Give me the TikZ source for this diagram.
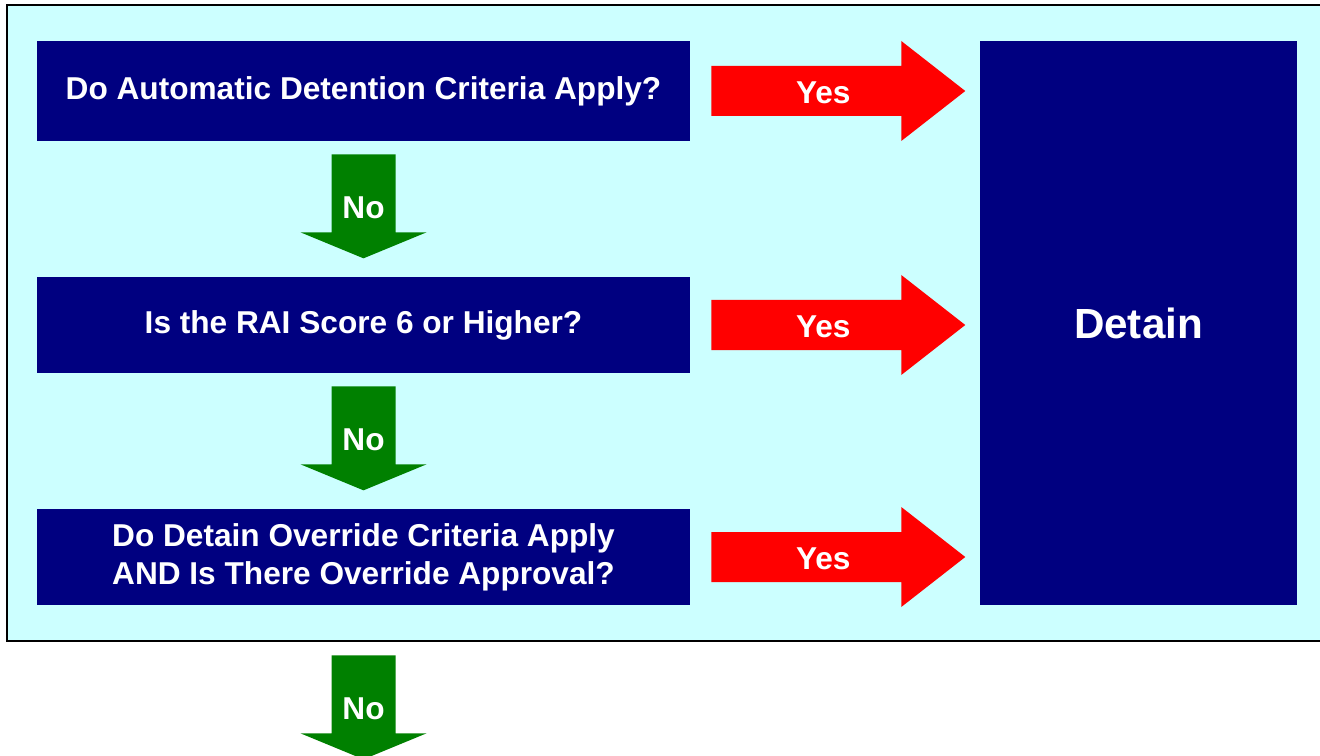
\documentclass[tikz,border=0pt]{standalone}
\usepackage{fontspec}
\setmainfont{Liberation Sans}
\usetikzlibrary{positioning}
\definecolor{panel}{HTML}{CCFFFF}
\definecolor{navy}{HTML}{000080}
\definecolor{nogreen}{HTML}{008000}

\begin{document}
\begin{tikzpicture}[x=0.02cm, y=-0.02cm,
    q/.style={fill=navy, text=white, align=center, inner sep=0,
      font=\bfseries\fontsize{18}{21.5}\selectfont},
    lbl/.style={text=white, inner sep=0, font=\bfseries\fontsize{18}{21.5}\selectfont}]
  \useasboundingbox (0,0) rectangle (1320,756);
  \clip (0,0) rectangle (1320,756);
  \draw[line width=1.1pt, fill=panel] (7,5) rectangle (1340,641);

  % questions and the outcome
  \node[q, minimum width=13.06cm, minimum height=2cm] (q1) at (363.5,91)
    {Do Automatic Detention Criteria Apply?};
  \node[q, minimum width=13.06cm, minimum height=1.92cm] (q2) at (363.5,325)
    {Is the RAI Score 6 or Higher?};
  \node[q, minimum width=13.06cm, minimum height=1.92cm] (q3) at (363.5,557)
    {Do Detain Override Criteria Apply\\AND Is There Override Approval?};
  \node[q, minimum width=6.34cm, minimum height=11.28cm,
    font=\bfseries\fontsize{24}{28}\selectfont] (detain) at (1138.5,323) {Detain};

  % yes arrows
  \foreach \i in {1,2,3} {
    \fill[red] ([xshift=0.42cm, yshift=0.5cm]q\i.east) -- ++(190,0) -- ++(0,-25)
      -- ++(64,50) -- ++(-64,50) -- ++(0,-25) -- ++(-190,0) -- cycle;
    \node[lbl] (yes\i) at ([xshift=2.66cm, yshift=-0.04cm]q\i.east) {Yes};
  }

  % no arrows
  \foreach \i/\gap in {1/13,2/13,3/50} {
    \fill[nogreen] ([xshift=-0.64cm, yshift=-\gap*0.02cm]q\i.south) -- ++(64,0)
      -- ++(0,78) -- ++(31,0) -- ++(-63,26) -- ++(-63,-26) -- ++(31,0) -- cycle;
    \node[lbl] (no\i) at ([yshift=-\gap*0.02cm-1.06cm]q\i.south) {No};
  }
\end{tikzpicture}
\end{document}
